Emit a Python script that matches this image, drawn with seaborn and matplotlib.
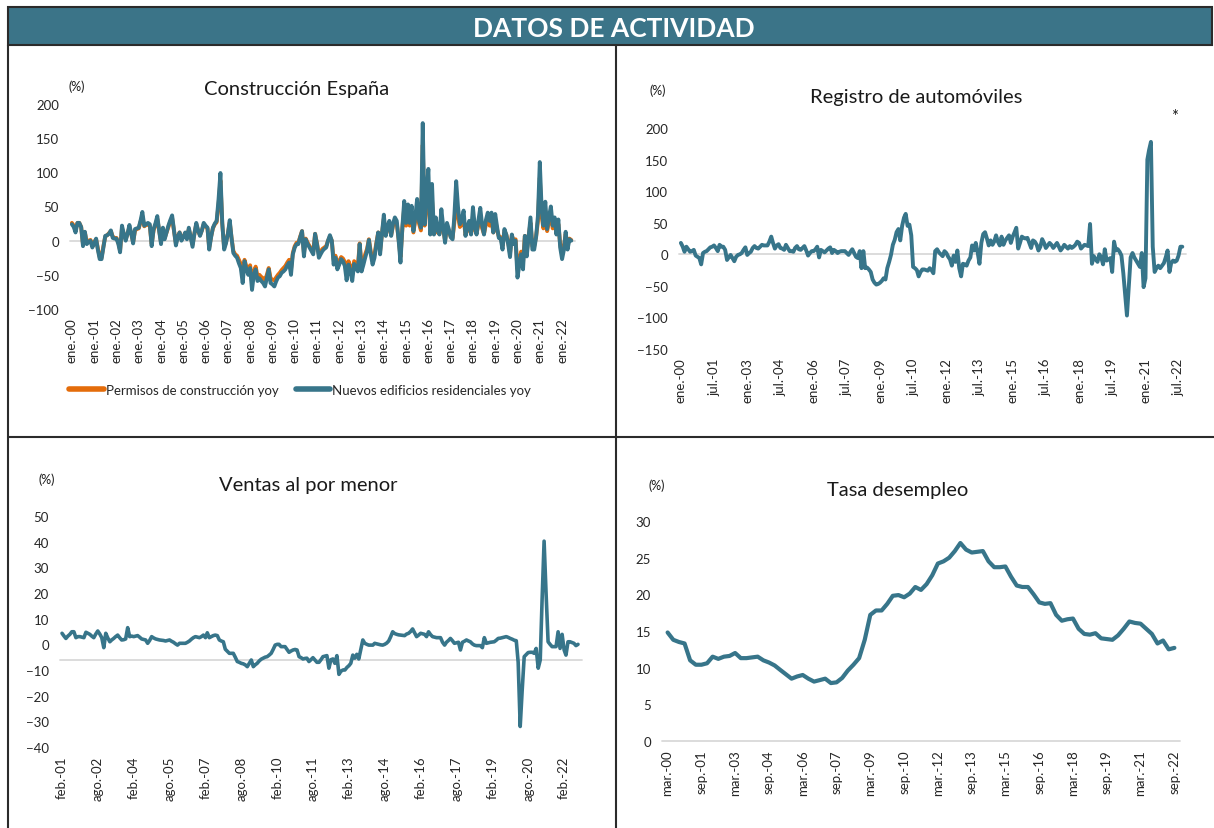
#!/usr/bin/env python3
#===============================================================================
# plot datos de actividad (Spain): construccion, autos, ventas, desempleo
#===============================================================================

# Imports ======================================================================

import matplotlib
matplotlib.use('Agg')
import matplotlib.pyplot as plt
from matplotlib.patches import Rectangle
from matplotlib.lines import Line2D
import pandas as pd
import seaborn as sns


# Data =========================================================================

# Nuevos edificios residenciales yoy, monthly from ene-2000 (%)
edificios = [
    24, 20, 12, 26, 26, 20, -8, 13, -5, -2, 0, -10,
    -4, 3, -13, -27, -27, -10, 7, 8, 10, 15, 4, 3,
    3, -5, -17, 22, 10, 0, 10, 23, 10, -4, 17, 18,
    19, 30, 42, 22, 24, 26, 24, -8, 17, 25, 36, 15,
    -5, 19, 2, 12, 22, 30, 37, 15, -7, 5, 12, 0,
    5, 12, 2, 19, 5, -9, 10, 26, 15, 7, 15, 26,
    22, 19, -13, 5, 19, 25, 29, 60, 99, 26, -13, -4,
    10, 30, 5, -18, -22, -25, -33, -40, -62, -30, -42, -50,
    -40, -72, -50, -42, -59, -55, -59, -62, -67, -55, -42, -62,
    -64, -67, -60, -54, -52, -47, -45, -42, -36, -32, -50, -20,
    -10, -5, -5, 5, 14, -23, 2, -5, -10, -15, -20, 10,
    -5, -25, -20, -15, -12, -10, 0, 8, 0, -35, -25, -42,
    -35, -27, -30, -37, -58, -35, -45, -59, -34, -40, -45, -5,
    -45, -35, -25, -15, 1, -20, -35, -25, -5, 12, -20, 10,
    38, 7, 20, 29, 7, 25, 34, 29, 0, -32, 20, 58,
    26, 53, 26, 51, 14, 35, 61, 29, 19, 172, 24, 70,
    105, 9, 83, 9, 34, 15, 9, 46, 20, -3, 26, 17,
    5, 2, 34, 87, 49, 24, 30, 44, 7, 20, 29, 9,
    49, 20, 9, 30, 48, 22, 9, 30, 41, 29, 41, 12,
    39, 20, 4, 3, -13, 17, 9, -5, -24, 9, -5, 0,
    -54, -35, -20, -42, 7, -23, 5, 34, -13, -13, 5, 36,
    115, 44, 22, 57, 17, 35, 50, 22, 34, 9, 31, -10,
    -27, -13, 13, -13, 2, 0,
]

# Permisos de construccion yoy, monthly from ene-2000 (%)
permisos = [
    26, 22, 15, 26, 26, 20, -5, 12, -3, 0, 1, -7,
    -2, 2, -11, -24, -25, -8, 6, 8, 11, 14, 6, 4,
    4, -3, -14, 18, 10, 2, 10, 20, 10, -2, 15, 17,
    18, 28, 36, 21, 23, 24, 22, -5, 15, 23, 32, 15,
    -2, 17, 4, 12, 20, 28, 33, 15, -4, 6, 12, 2,
    6, 11, 4, 17, 6, -6, 10, 24, 14, 8, 15, 24,
    21, 18, -10, 6, 18, 24, 27, 52, 88, 25, -10, -2,
    10, 27, 5, -15, -20, -22, -28, -34, -52, -28, -38, -45,
    -36, -60, -45, -38, -52, -50, -53, -55, -58, -50, -40, -55,
    -57, -58, -54, -50, -47, -43, -40, -37, -32, -28, -42, -18,
    -8, -3, -3, 6, 14, -18, 3, -3, -8, -12, -16, 10,
    -4, -20, -16, -12, -10, -8, 0, 6, 0, -28, -22, -34,
    -30, -24, -26, -31, -48, -30, -38, -50, -30, -34, -38, -4,
    -36, -30, -20, -12, 2, -16, -28, -20, -3, 12, -15, 10,
    32, 8, 18, 25, 8, 22, 28, 25, 2, -24, 18, 48,
    22, 42, 22, 40, 12, 30, 48, 25, 15, 140, 22, 55,
    80, 10, 60, 10, 26, 12, 10, 32, 16, 0, 20, 14,
    6, 4, 26, 62, 36, 20, 24, 32, 8, 16, 22, 10,
    36, 16, 10, 24, 36, 18, 10, 24, 30, 22, 30, 12,
    30, 16, 6, 5, -8, 14, 9, -2, -18, 8, -2, 2,
    -42, -28, -16, -32, 7, -16, 6, 26, -8, -8, 6, 28,
    92, 35, 18, 44, 14, 28, 38, 18, 26, 10, 24, -5,
    -20, -8, 10, -8, 3, 1,
]

constr_labels = ['ene.-%02d' % y for y in range(0, 23)]

# Registro de automoviles yoy, monthly from ene-2000 (%)
automoviles = [
    18, 12, 4, 12, 8, 4, 5, 7, -2, -4, -6, -16,
    2, 4, 5, 8, 11, 12, 14, 10, 5, 15, 12, 12,
    7, -9, -5, -1, -6, -11, -4, -1, 0, 2, 7, 11,
    -1, 2, 4, 10, 13, 10, 9, 12, 15, 14, 14, 14,
    20, 28, 18, 9, 14, 16, 10, 9, 7, 15, 10, 5,
    5, 4, 10, 13, 8, 7, 10, 13, 6, -2, 2, 5,
    5, 8, 12, -5, 7, 5, 3, 6, 9, 11, 2, 7,
    5, 2, 4, 5, 5, 5, 2, -1, 4, 8, 2, -4,
    -6, 5, -22, 5, -22, -21, -24, -28, -40, -45, -48, -47,
    -45, -42, -38, -40, -22, -12, -1, 15, 23, 35, 40, 22,
    45, 58, 64, 45, 47, 30, -20, -22, -25, -35, -28, -24,
    -24, -25, -26, -22, -25, -30, 5, 8, 3, 0, -3, 5,
    2, -4, -8, -18, -2, -12, 6, -22, -35, -15, -16, -18,
    -10, -5, 14, 6, 18, 3, -15, 18, 32, 35, 25, 14,
    22, 15, 20, 30, 20, 14, 28, 15, 22, 26, 30, 18,
    28, 35, 42, 9, 18, 28, 26, 25, 26, 18, 10, 22,
    20, 15, 6, 12, 24, 18, 10, 14, 18, 15, 10, 14,
    18, 12, 6, 10, 15, 12, 9, 13, 10, 12, 15, 20,
    18, 9, 12, 15, 14, 13, 48, -15, -3, -8, -12, 0,
    -5, -16, 8, -10, -8, -6, -28, 20, 6, 8, 4, -2,
    -30, -65, -97, -50, -5, 2, -5, -10, -15, -20, 2, -52,
    -38, 150, 165, 178, 12, -28, -22, -18, -22, -18, -14, -5,
    6, -28, -14, -10, -12, -10, -2, 12, 12,
]

autos_labels = ['ene.-00', 'jul.-01', 'ene.-03', 'jul.-04', 'ene.-06',
                'jul.-07', 'ene.-09', 'jul.-10', 'ene.-12', 'jul.-13',
                'ene.-15', 'jul.-16', 'ene.-18', 'jul.-19', 'ene.-21',
                'jul.-22']

# Ventas al por menor yoy, monthly from feb-2001 (%)
ventas = [
    4.3, 3.3, 2.3, 3.2, 3.9, 4.9, 4.9, 2.6, 3.0, 3.0, 2.8, 2.6,
    4.7, 4.3, 3.9, 3.2, 2.6, 4.0, 5.2, 4.0, 2.6, -1.3, 4.3, 2.5,
    1.0, 1.7, 2.3, 3.0, 3.6, 2.6, 1.7, 1.8, 2.1, 6.5, 3.0, 3.2,
    3.0, 3.2, 3.4, 2.8, 2.1, 1.9, 1.7, 0.4, 1.5, 3.0, 2.5, 2.1,
    1.9, 1.7, 1.6, 1.5, 1.3, 1.5, 1.7, 1.2, 0.8, 0.2, -0.3, 0.4,
    0.4, 0.4, 0.4, 0.8, 1.3, 2.0, 2.6, 3.0, 2.8, 2.6, 3.0, 3.6,
    2.6, 4.5, 2.6, 3.0, 3.4, 3.6, 3.4, 1.7, 1.3, 1.0, -1.9, -2.7,
    -3.5, -3.5, -3.5, -5.0, -6.7, -7.0, -7.4, -7.6, -8.0, -8.7, -7.4, -6.1,
    -8.7, -8.0, -7.4, -6.5, -5.8, -5.4, -5.0, -4.8, -4.2, -3.5, -2.0, -0.3,
    0.0, 0.0, -0.9, -0.9, -0.9, -2.0, -3.1, -2.6, -2.2, -2.0, -2.2, -4.8,
    -5.2, -5.7, -5.5, -5.4, -6.7, -6.0, -5.2, -6.1, -7.0, -7.0, -6.0, -4.8,
    -4.6, -4.4, -9.3, -6.0, -5.7, -7.4, -4.4, -11.7, -10.5, -10.0, -10.0, -9.0,
    -8.3, -7.4, -4.2, -5.4, -3.9, -5.7, -2.0, 1.7, 0.4, 0.0, -0.3, -0.3,
    -0.3, 0.4, 0.2, 0.0, -0.2, -0.3, 0.0, 0.5, 1.3, 3.0, 4.9, 4.2,
    3.9, 3.7, 3.6, 3.5, 3.4, 4.0, 4.3, 5.0, 6.0, 4.5, 3.0, 3.6,
    4.3, 4.1, 3.9, 3.0, 4.9, 3.8, 3.0, 2.8, 2.6, 2.6, 2.6, 0.8,
    -0.3, 0.8, 1.5, 2.3, 1.4, 0.4, 0.6, 0.8, -2.2, 0.8, 1.2, 1.7,
    1.3, 1.0, 0.2, -0.3, -0.5, -0.5, -0.5, -1.3, 2.6, 0.4, 0.6, 0.8,
    0.9, 1.0, 1.6, 2.3, 2.4, 2.6, 2.8, 3.0, 2.7, 2.3, 2.0, 1.6,
    1.4, -7.0, -32.0, -18.0, -4.8, -4.0, -3.2, -3.1, -3.1, -3.5, -1.6, -9.3,
    -6.1, 17.0, 40.2, 20.0, 1.0, 0.0, -0.9, -0.9, -0.9, 4.9, -1.6, 3.9,
    -2.2, -4.2, 1.0, 1.0, 0.7, 0.4, -0.5, 0.0,
]

ventas_labels = ['feb.-01', 'ago.-02', 'feb.-04', 'ago.-05', 'feb.-07',
                 'ago.-08', 'feb.-10', 'ago.-11', 'feb.-13', 'ago.-14',
                 'feb.-16', 'ago.-17', 'feb.-19', 'ago.-20', 'feb.-22']

# Tasa de desempleo, quarterly from mar-2000 (%)
desempleo = [
    14.8, 13.8, 13.5, 13.3,
    11.0, 10.4, 10.4, 10.6,
    11.5, 11.2, 11.5, 11.6,
    12.0, 11.3, 11.3, 11.4,
    11.5, 11.0, 10.7, 10.3,
    9.7, 9.1, 8.5, 8.8,
    9.0, 8.5, 8.1, 8.3,
    8.5, 7.9, 8.0, 8.6,
    9.6, 10.4, 11.3, 13.8,
    17.2, 17.8, 17.8, 18.7,
    19.8, 19.9, 19.6, 20.1,
    21.0, 20.6, 21.4, 22.6,
    24.2, 24.5, 25.0, 25.9,
    27.0, 26.1, 25.7, 25.8,
    25.9, 24.5, 23.7, 23.7,
    23.8, 22.4, 21.2, 21.0,
    21.0, 20.0, 18.9, 18.7,
    18.8, 17.2, 16.4, 16.6,
    16.7, 15.3, 14.6, 14.5,
    14.7, 14.0, 13.9, 13.8,
    14.4, 15.3, 16.3, 16.1,
    16.0, 15.3, 14.6, 13.3,
    13.7, 12.5, 12.7,
]

desempleo_labels = ['mar.-00', 'sep.-01', 'mar.-03', 'sep.-04', 'mar.-06',
                    'sep.-07', 'mar.-09', 'sep.-10', 'mar.-12', 'sep.-13',
                    'mar.-15', 'sep.-16', 'mar.-18', 'sep.-19', 'mar.-21',
                    'sep.-22']


# Constants ====================================================================

W, H = 1214, 829
TEAL = '#37758a'
HEADER = '#3b7488'
ORANGE = '#e46c0a'
GRID = '#d9d9d9'
FRAME = '#2b2b2b'
TEXT = '#1a1a1a'




# Functions ====================================================================

def box(l, t, r, b):
    """pixel box (left, top, right, bottom) -> figure fraction rect"""
    return [l / W, 1 - b / H, (r - l) / W, (b - t) / H]


def fxy(x, y):
    return x / W, 1 - y / H


def draw_panel(fig, rect, dates, series, ylim, ystep, every, labels,
               title, title_xy, pct_xy, ref=0, step=1, lw=2.6):
    ax = fig.add_axes(box(*rect))
    ax.axhline(ref, color=GRID, lw=1.3, zorder=0, clip_on=False)
    for values, color, label in series:
        sns.lineplot(x=dates, y=values, ax=ax, color=color, linewidth=lw,
                     label=label)
    if ax.get_legend() is not None:
        ax.get_legend().remove()
    ax.set_ylim(*ylim)
    ax.set_yticks(range(ylim[0], ylim[1] + 1, ystep))
    ax.set_xlim(dates[0] - pd.DateOffset(months=step),
                dates[-1] + pd.DateOffset(months=2 * step if step == 1 else step))
    ax.set_xticks(dates[::every])
    ax.set_xticklabels(labels, rotation=90)
    ax.set_xlabel('')
    ax.set_ylabel('')
    ax.tick_params(axis='both', length=0, labelsize=9.5, colors='#262626')
    ax.tick_params(axis='y', pad=8)
    ax.tick_params(axis='x', pad=6)
    sns.despine(ax=ax, left=True, bottom=True)
    ax.patch.set_alpha(0)
    fig.text(*fxy(*title_xy), title, ha='center', va='center', fontsize=14.5,
             color=TEXT)
    fig.text(*fxy(*pct_xy), '(%)', ha='center', va='center', fontsize=9,
             color=TEXT)
    return ax


def draw_frame(fig):
    fig.add_artist(Rectangle(fxy(8, 46), 1204 / W, 38 / H,
                             transform=fig.transFigure, facecolor=HEADER,
                             edgecolor=FRAME, lw=1.5))
    fig.text(*fxy(614, 29), 'DATOS DE ACTIVIDAD', ha='center', va='center',
             fontsize=19, fontweight='bold', color='white')
    for (x0, y0), (x1, y1) in [((8, 46), (8, 829)),
                               ((616, 46), (616, 829)),
                               ((8, 438), (1214, 438))]:
        xa, ya = fxy(x0, y0)
        xb, yb = fxy(x1, y1)
        fig.add_artist(Line2D([xa, xb], [ya, yb], transform=fig.transFigure,
                              color=FRAME, lw=1.5))


def main():
    sns.set_theme(style='white')
    plt.rcParams['font.family'] = ['Lato', 'DejaVu Sans']

    fig = plt.figure(figsize=(W / 100, H / 100), dpi=100)
    fig.patch.set_facecolor('white')

    # Construccion Espana
    d1 = pd.date_range('2000-01-01', periods=len(edificios), freq='MS')
    draw_panel(
        fig, (70, 105, 575, 310), d1,
        [(permisos, ORANGE, 'Permisos de construcción yoy'),
         (edificios, TEAL, 'Nuevos edificios residenciales yoy')],
        (-100, 200), 50, 12, constr_labels,
        'Construcción España', (297, 90), (77, 87), lw=2.8)
    handles = [Line2D([], [], color=ORANGE, lw=4),
               Line2D([], [], color=TEAL, lw=4)]
    fig.legend(handles, ['Permisos de construcción yoy',
                         'Nuevos edificios residenciales yoy'],
               loc='center', bbox_to_anchor=fxy(300, 391), ncol=2,
               frameon=False, fontsize=9.5, handlelength=2.6,
               handletextpad=0.15, columnspacing=1.3)

    # Registro de automoviles
    d2 = pd.date_range('2000-01-01', periods=len(automoviles), freq='MS')
    draw_panel(
        fig, (679, 129, 1186, 350), d2,
        [(automoviles, TEAL, None)],
        (-150, 200), 50, 18, autos_labels,
        'Registro de automóviles', (916, 97), (658, 91), lw=2.8)
    fig.text(*fxy(1175, 117), '*', ha='center', va='center', fontsize=12,
             color=TEXT)

    # Ventas al por menor
    d3 = pd.date_range('2001-02-01', periods=len(ventas), freq='MS')
    draw_panel(
        fig, (60, 517, 582, 748), d3,
        [(ventas, TEAL, None)],
        (-40, 50), 10, 18, ventas_labels,
        'Ventas al por menor', (308, 486), (47, 480), ref=-6)

    # Tasa desempleo
    d4 = pd.date_range('2000-03-01', periods=len(desempleo), freq='3MS')
    draw_panel(
        fig, (662, 522, 1180, 742), d4,
        [(desempleo, TEAL, None)],
        (0, 30), 5, 6, desempleo_labels,
        'Tasa desempleo', (898, 491), (657, 486), step=3, lw=3.0)

    draw_frame(fig)
    fig.savefig('out.png', dpi=100)




# Execute ======================================================================

if __name__ == '__main__':
    main()
